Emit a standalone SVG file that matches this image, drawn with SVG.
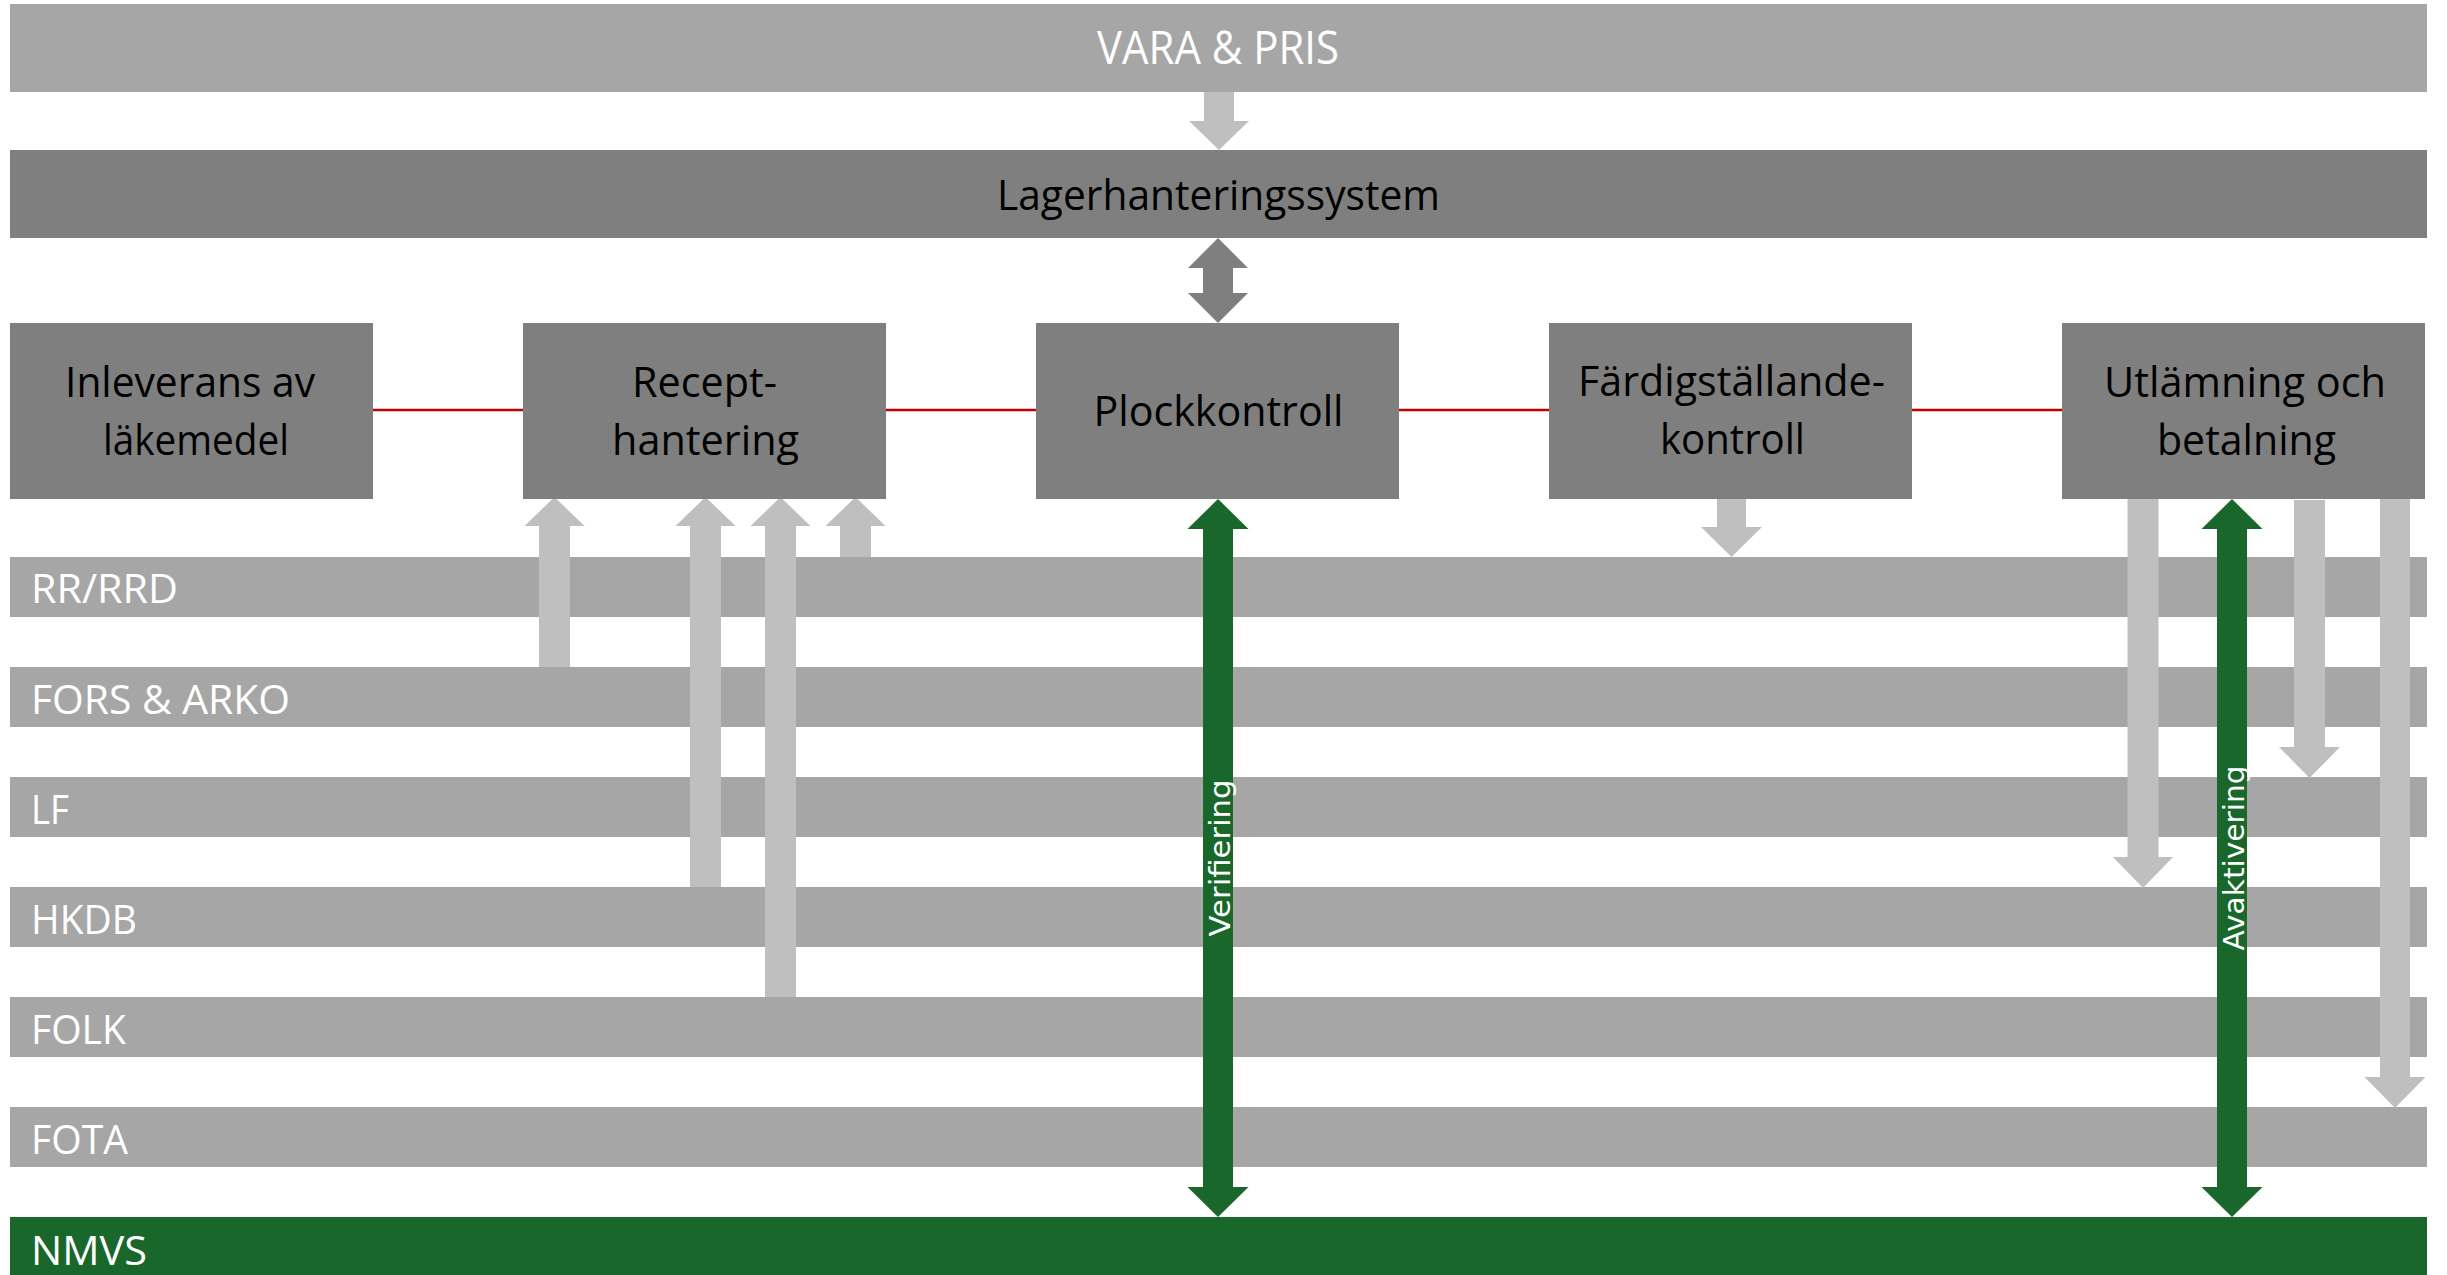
<svg xmlns="http://www.w3.org/2000/svg" width="2447" height="1275" viewBox="0 0 2447 1275">
<style>
.bar{fill:#A6A6A6}
.dark{fill:#7F7F7F}
.green{fill:#19672B}
.light{fill:#BFBFBF}
.darkarrow{fill:#7F7F7F}
.garrow{fill:#19672B}
.link{stroke:#C00000;stroke-width:2.5;fill:none}
.t{font-family:"Open Sans","Noto Sans","Liberation Sans",sans-serif;text-anchor:middle}
.wb{fill:#FFFFFF;font-size:40px;text-anchor:start}
.bk{fill:#000000;font-size:42px}
.rot{font-family:"DejaVu Sans","Liberation Sans",sans-serif;font-size:29px;fill:#FFFFFF;text-anchor:middle}
</style>
<rect width="2447" height="1275" fill="#FFFFFF"/>

<g id="vara-pris">
<rect class="bar" x="10" y="4" width="2417" height="88"/>
<text class="t" x="1218" y="64" fill="#FFFFFF" font-size="45" textLength="242" lengthAdjust="spacingAndGlyphs">VARA &amp; PRIS</text>
</g>
<g id="lagerhanteringssystem">
<rect class="dark" x="10" y="150" width="2417" height="88"/>
<text class="t bk" x="1218.5" y="210" textLength="443" lengthAdjust="spacingAndGlyphs">Lagerhanteringssystem</text>
</g>

<g id="rr-rrd"><rect class="bar" x="10" y="557" width="2417" height="60"/><text class="t wb" x="31" y="603" textLength="147" lengthAdjust="spacingAndGlyphs">RR/RRD</text></g>
<g id="fors-arko"><rect class="bar" x="10" y="667" width="2417" height="60"/><text class="t wb" x="31" y="714" textLength="259" lengthAdjust="spacingAndGlyphs">FORS &amp; ARKO</text></g>
<g id="lf"><rect class="bar" x="10" y="777" width="2417" height="60"/><text class="t wb" x="31" y="824" textLength="38" lengthAdjust="spacingAndGlyphs">LF</text></g>
<g id="hkdb"><rect class="bar" x="10" y="887" width="2417" height="60"/><text class="t wb" x="31" y="934" textLength="106" lengthAdjust="spacingAndGlyphs">HKDB</text></g>
<g id="folk"><rect class="bar" x="10" y="997" width="2417" height="60"/><text class="t wb" x="31" y="1044" textLength="95" lengthAdjust="spacingAndGlyphs">FOLK</text></g>
<g id="fota"><rect class="bar" x="10" y="1107" width="2417" height="60"/><text class="t wb" x="31" y="1154" textLength="97" lengthAdjust="spacingAndGlyphs">FOTA</text></g>
<g id="nmvs"><rect class="green" x="10" y="1217" width="2417" height="60"/><text class="t wb" x="31" y="1265" textLength="116" lengthAdjust="spacingAndGlyphs">NMVS</text></g>

<g id="connectors">
<line class="link" x1="373" y1="410" x2="523" y2="410"/>
<line class="link" x1="886" y1="410" x2="1036" y2="410"/>
<line class="link" x1="1399" y1="410" x2="1549" y2="410"/>
<line class="link" x1="1912" y1="410" x2="2062" y2="410"/>
<polygon class="light" points="1204,92 1234,92 1234,121 1249,121 1219,150 1189,121 1204,121"/>
<polygon class="darkarrow" points="1218,238 1248,268 1233,268 1233,293 1248,293 1218,323 1188,293 1203,293 1203,268 1188,268"/>
<polygon class="light" points="554.5,497 584.5,526 570,526 570,667 539,667 539,526 524.5,526"/>
<polygon class="light" points="705.5,497 735.5,526 721,526 721,887 690,887 690,526 675.5,526"/>
<polygon class="light" points="780.5,497 810.5,526 796,526 796,997 765,997 765,526 750.5,526"/>
<polygon class="light" points="855.5,497 885.5,526 871,526 871,557 840,557 840,526 825.5,526"/>
<polygon class="light" points="1717,496 1746,496 1746,527 1762,527 1731.5,557 1701,527 1717,527"/>
<polygon class="light" points="2127.5,498 2158.5,498 2158.5,857 2173,857 2143,888 2113,857 2127.5,857"/>
<polygon class="light" points="2294,500 2325,500 2325,747 2340,747 2309.5,778 2279,747 2294,747"/>
<polygon class="light" points="2380,495 2410,495 2410,1077 2425.5,1077 2395,1108 2364.5,1077 2380,1077"/>
<polygon class="garrow" points="1218,499 1248.5,529 1233,529 1233,1187 1248.5,1187 1218,1217 1187.5,1187 1203,1187 1203,529 1187.5,529"/>
<polygon class="garrow" points="2232,499 2262.5,529 2247,529 2247,1187 2262.5,1187 2232,1217 2201.5,1187 2217,1187 2217,529 2201.5,529"/>
<text class="rot" transform="translate(1230,858) rotate(-90)" textLength="157" lengthAdjust="spacingAndGlyphs">Verifiering</text>
<text class="rot" transform="translate(2244,858) rotate(-90)" textLength="185" lengthAdjust="spacingAndGlyphs">Avaktivering</text>
</g>

<g id="inleverans">
<rect class="dark" x="10" y="323" width="363" height="176"/>
<text class="t bk" x="190" y="397" textLength="250" lengthAdjust="spacingAndGlyphs">Inleverans av</text>
<text class="t bk" x="196" y="455" textLength="186" lengthAdjust="spacingAndGlyphs">läkemedel</text>
</g>
<g id="recepthantering">
<rect class="dark" x="523" y="323" width="363" height="176"/>
<text class="t bk" x="704.5" y="397" textLength="145" lengthAdjust="spacingAndGlyphs">Recept-</text>
<text class="t bk" x="705.5" y="455" textLength="187" lengthAdjust="spacingAndGlyphs">hantering</text>
</g>
<g id="plockkontroll">
<rect class="dark" x="1036" y="323" width="363" height="176"/>
<text class="t bk" x="1218.5" y="426" textLength="250" lengthAdjust="spacingAndGlyphs">Plockkontroll</text>
</g>
<g id="fardigstallandekontroll">
<rect class="dark" x="1549" y="323" width="363" height="176"/>
<text class="t bk" x="1731.5" y="396" textLength="307" lengthAdjust="spacingAndGlyphs">Färdigställande-</text>
<text class="t bk" x="1732.5" y="454" textLength="145" lengthAdjust="spacingAndGlyphs">kontroll</text>
</g>
<g id="utlamning">
<rect class="dark" x="2062" y="323" width="363" height="176"/>
<text class="t bk" x="2245" y="397" textLength="282" lengthAdjust="spacingAndGlyphs">Utlämning och</text>
<text class="t bk" x="2246.5" y="455" textLength="179" lengthAdjust="spacingAndGlyphs">betalning</text>
</g>
</svg>
